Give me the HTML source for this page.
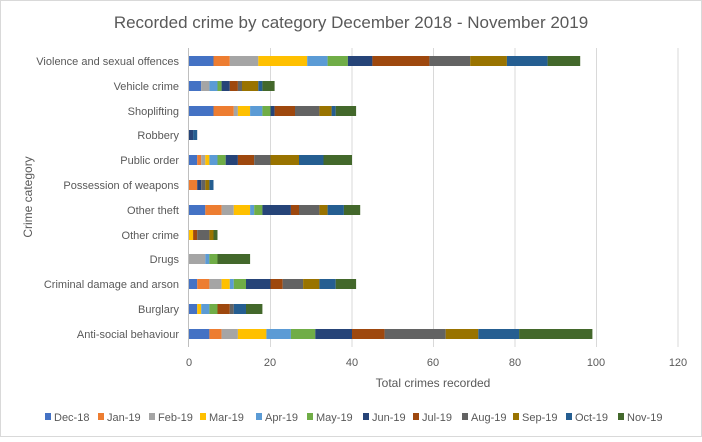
<!DOCTYPE html>
<html><head><meta charset="utf-8"><style>
html,body{margin:0;padding:0;background:#fff}
svg text{font-family:"Liberation Sans",sans-serif;fill:#595959}
.a{fill:#4472c4}.b{fill:#ed7d31}.c{fill:#a5a5a5}.d{fill:#ffc000}.e{fill:#5b9bd5}.f{fill:#70ad47}
.g{fill:#264478}.h{fill:#9e480e}.i{fill:#636363}.j{fill:#997300}.k{fill:#255e91}.l{fill:#43682b}
</style></head><body>
<svg width="702" height="437" viewBox="0 0 702 437" xmlns="http://www.w3.org/2000/svg">
<rect x="0.5" y="0.5" width="701" height="436" fill="#fff" stroke="#d9d9d9"/>
<text x="351" y="28" font-size="17" text-anchor="middle">Recorded crime by category December 2018 - November 2019</text>
<g stroke="#d9d9d9" stroke-width="1">
<line x1="270.5" y1="48" x2="270.5" y2="347"/><line x1="352" y1="48" x2="352" y2="347"/>
<line x1="433.5" y1="48" x2="433.5" y2="347"/><line x1="515" y1="48" x2="515" y2="347"/>
<line x1="596.5" y1="48" x2="596.5" y2="347"/><line x1="678" y1="48" x2="678" y2="347"/>
</g>
<line x1="188.5" y1="48" x2="188.5" y2="347" stroke="#bfbfbf"/>
<g>
<rect class="a" x="189" y="56" width="24.5" height="10"/><rect class="b" x="213.5" y="56" width="16.3" height="10"/><rect class="c" x="229.8" y="56" width="28.5" height="10"/><rect class="d" x="258.3" y="56" width="48.9" height="10"/><rect class="e" x="307.2" y="56" width="20.4" height="10"/><rect class="f" x="327.6" y="56" width="20.3" height="10"/><rect class="g" x="347.9" y="56" width="24.5" height="10"/><rect class="h" x="372.4" y="56" width="57" height="10"/><rect class="i" x="429.4" y="56" width="40.8" height="10"/><rect class="j" x="470.2" y="56" width="36.7" height="10"/><rect class="k" x="506.9" y="56" width="40.7" height="10"/><rect class="l" x="547.6" y="56" width="32.6" height="10"/>
<rect class="a" x="189" y="81" width="12.2" height="10"/><rect class="c" x="201.2" y="81" width="8.2" height="10"/><rect class="e" x="209.4" y="81" width="8.1" height="10"/><rect class="f" x="217.5" y="81" width="4.1" height="10"/><rect class="g" x="221.6" y="81" width="8.2" height="10"/><rect class="h" x="229.8" y="81" width="8.1" height="10"/><rect class="i" x="237.9" y="81" width="4.1" height="10"/><rect class="j" x="242" y="81" width="16.3" height="10"/><rect class="k" x="258.3" y="81" width="4.1" height="10"/><rect class="l" x="262.4" y="81" width="12.2" height="10"/>
<rect class="a" x="189" y="106" width="24.5" height="10"/><rect class="b" x="213.5" y="106" width="20.3" height="10"/><rect class="c" x="233.8" y="106" width="4.1" height="10"/><rect class="d" x="237.9" y="106" width="12.2" height="10"/><rect class="e" x="250.1" y="106" width="12.3" height="10"/><rect class="f" x="262.4" y="106" width="8.1" height="10"/><rect class="g" x="270.5" y="106" width="4.1" height="10"/><rect class="h" x="274.6" y="106" width="20.4" height="10"/><rect class="i" x="295" y="106" width="24.4" height="10"/><rect class="j" x="319.4" y="106" width="12.2" height="10"/><rect class="k" x="331.6" y="106" width="4.1" height="10"/><rect class="l" x="335.7" y="106" width="20.4" height="10"/>
<rect class="g" x="189" y="130" width="4.1" height="10"/><rect class="k" x="193.1" y="130" width="4.1" height="10"/>
<rect class="a" x="189" y="155" width="8.2" height="10"/><rect class="b" x="197.2" y="155" width="4" height="10"/><rect class="c" x="201.2" y="155" width="4.1" height="10"/><rect class="d" x="205.3" y="155" width="4.1" height="10"/><rect class="e" x="209.4" y="155" width="8.1" height="10"/><rect class="f" x="217.5" y="155" width="8.2" height="10"/><rect class="g" x="225.7" y="155" width="12.2" height="10"/><rect class="h" x="237.9" y="155" width="16.3" height="10"/><rect class="i" x="254.2" y="155" width="16.3" height="10"/><rect class="j" x="270.5" y="155" width="28.5" height="10"/><rect class="k" x="299" y="155" width="24.5" height="10"/><rect class="l" x="323.5" y="155" width="28.5" height="10"/>
<rect class="b" x="189" y="180" width="8.2" height="10"/><rect class="g" x="197.2" y="180" width="4" height="10"/><rect class="i" x="201.2" y="180" width="4.1" height="10"/><rect class="j" x="205.3" y="180" width="4.1" height="10"/><rect class="k" x="209.4" y="180" width="4.1" height="10"/>
<rect class="a" x="189" y="205" width="16.3" height="10"/><rect class="b" x="205.3" y="205" width="16.3" height="10"/><rect class="c" x="221.6" y="205" width="12.2" height="10"/><rect class="d" x="233.8" y="205" width="16.3" height="10"/><rect class="e" x="250.1" y="205" width="4.1" height="10"/><rect class="f" x="254.2" y="205" width="8.2" height="10"/><rect class="g" x="262.4" y="205" width="28.5" height="10"/><rect class="h" x="290.9" y="205" width="8.1" height="10"/><rect class="i" x="299" y="205" width="20.4" height="10"/><rect class="j" x="319.4" y="205" width="8.2" height="10"/><rect class="k" x="327.6" y="205" width="16.3" height="10"/><rect class="l" x="343.9" y="205" width="16.3" height="10"/>
<rect class="d" x="189" y="230" width="4.1" height="10"/><rect class="h" x="193.1" y="230" width="4.1" height="10"/><rect class="i" x="197.2" y="230" width="12.2" height="10"/><rect class="j" x="209.4" y="230" width="4.1" height="10"/><rect class="l" x="213.5" y="230" width="4" height="10"/>
<rect class="c" x="189" y="254" width="16.3" height="10"/><rect class="e" x="205.3" y="254" width="4.1" height="10"/><rect class="f" x="209.4" y="254" width="8.1" height="10"/><rect class="l" x="217.5" y="254" width="32.6" height="10"/>
<rect class="a" x="189" y="279" width="8.2" height="10"/><rect class="b" x="197.2" y="279" width="12.2" height="10"/><rect class="c" x="209.4" y="279" width="12.2" height="10"/><rect class="d" x="221.6" y="279" width="8.2" height="10"/><rect class="e" x="229.8" y="279" width="4" height="10"/><rect class="f" x="233.8" y="279" width="12.2" height="10"/><rect class="g" x="246" y="279" width="24.5" height="10"/><rect class="h" x="270.5" y="279" width="12.2" height="10"/><rect class="i" x="282.7" y="279" width="20.4" height="10"/><rect class="j" x="303.1" y="279" width="16.3" height="10"/><rect class="k" x="319.4" y="279" width="16.3" height="10"/><rect class="l" x="335.7" y="279" width="20.4" height="10"/>
<rect class="a" x="189" y="304" width="8.2" height="10"/><rect class="d" x="197.2" y="304" width="4" height="10"/><rect class="e" x="201.2" y="304" width="8.2" height="10"/><rect class="f" x="209.4" y="304" width="8.1" height="10"/><rect class="h" x="217.5" y="304" width="12.3" height="10"/><rect class="i" x="229.8" y="304" width="4" height="10"/><rect class="k" x="233.8" y="304" width="12.2" height="10"/><rect class="l" x="246" y="304" width="16.4" height="10"/>
<rect class="a" x="189" y="329" width="20.4" height="10"/><rect class="b" x="209.4" y="329" width="12.2" height="10"/><rect class="c" x="221.6" y="329" width="16.3" height="10"/><rect class="d" x="237.9" y="329" width="28.5" height="10"/><rect class="e" x="266.4" y="329" width="24.5" height="10"/><rect class="f" x="290.9" y="329" width="24.4" height="10"/><rect class="g" x="315.3" y="329" width="36.7" height="10"/><rect class="h" x="352" y="329" width="32.6" height="10"/><rect class="i" x="384.6" y="329" width="61.1" height="10"/><rect class="j" x="445.7" y="329" width="32.6" height="10"/><rect class="k" x="478.3" y="329" width="40.8" height="10"/><rect class="l" x="519.1" y="329" width="73.3" height="10"/>
</g>
<g font-size="11" text-anchor="end">
<text x="179" y="65">Violence and sexual offences</text>
<text x="179" y="90">Vehicle crime</text>
<text x="179" y="115">Shoplifting</text>
<text x="179" y="139">Robbery</text>
<text x="179" y="164">Public order</text>
<text x="179" y="189">Possession of weapons</text>
<text x="179" y="214">Other theft</text>
<text x="179" y="239">Other crime</text>
<text x="179" y="263">Drugs</text>
<text x="179" y="288">Criminal damage and arson</text>
<text x="179" y="313">Burglary</text>
<text x="179" y="338">Anti-social behaviour</text>
</g>
<g font-size="11" text-anchor="middle">
<text x="189" y="366">0</text><text x="270" y="366">20</text><text x="352" y="366">40</text>
<text x="433" y="366">60</text><text x="515" y="366">80</text><text x="596" y="366">100</text><text x="678" y="366">120</text>
</g>
<text x="433" y="387" font-size="12" text-anchor="middle">Total crimes recorded</text>
<text transform="translate(32,197) rotate(-90)" font-size="12" text-anchor="middle">Crime category</text>
<g font-size="11">
<rect class="a" x="45" y="413" width="6" height="7"/><text x="54" y="421">Dec-18</text>
<rect class="b" x="98" y="413" width="6" height="7"/><text x="107" y="421">Jan-19</text>
<rect class="c" x="149" y="413" width="6" height="7"/><text x="158" y="421">Feb-19</text>
<rect class="d" x="200" y="413" width="6" height="7"/><text x="209" y="421">Mar-19</text>
<rect class="e" x="256" y="413" width="6" height="7"/><text x="265" y="421">Apr-19</text>
<rect class="f" x="307" y="413" width="6" height="7"/><text x="316" y="421">May-19</text>
<rect class="g" x="363" y="413" width="6" height="7"/><text x="372" y="421">Jun-19</text>
<rect class="h" x="413" y="413" width="6" height="7"/><text x="422" y="421">Jul-19</text>
<rect class="i" x="462" y="413" width="6" height="7"/><text x="471" y="421">Aug-19</text>
<rect class="j" x="513" y="413" width="6" height="7"/><text x="522" y="421">Sep-19</text>
<rect class="k" x="566" y="413" width="6" height="7"/><text x="575" y="421">Oct-19</text>
<rect class="l" x="618" y="413" width="6" height="7"/><text x="627" y="421">Nov-19</text>
</g>
</svg>
</body></html>
